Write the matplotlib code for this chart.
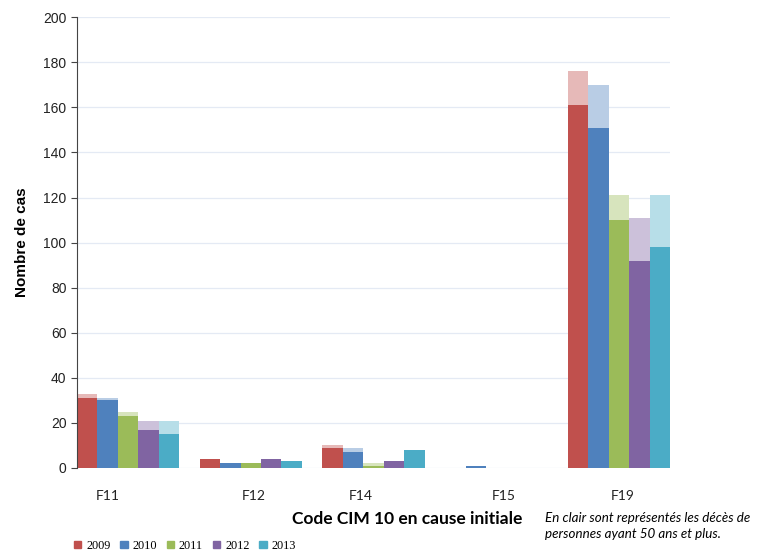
import numpy as np
import matplotlib.pyplot as plt
from matplotlib.patches import Patch

plt.rcParams["font.family"] = ["Liberation Sans", "DejaVu Sans"]

# DATA
codes = ["F11", "F12", "F14", "F15", "F19"]
annees = ["2009", "2010", "2011", "2012", "2013"]

# moins de 50 ans (fonce)
moins50 = {
    "2009": [31, 4, 9, 0, 161],
    "2010": [30, 2, 7, 1, 151],
    "2011": [23, 2, 1, 0, 110],
    "2012": [17, 4, 3, 0, 92],
    "2013": [15, 3, 8, 0, 98],
}
# total (fonce + clair = 50 ans et plus)
total = {
    "2009": [33, 4, 10, 0, 176],
    "2010": [31, 2, 9, 1, 170],
    "2011": [25, 2, 2, 0, 121],
    "2012": [21, 4, 3, 0, 111],
    "2013": [21, 3, 8, 0, 121],
}

COULEURS = ["#C0504D", "#4F81BD", "#9BBB59", "#8064A2", "#4BACC6"]
CLAIRES = ["#E6B9B8", "#B9CDE5", "#D7E4BD", "#CCC1DA", "#B7DEE8"]

# decalage des etiquettes (comme dans le graphique d'origine)
decal_label = [-0.17, 0.02, -0.1, 0.06, 0.03]

fig = plt.figure(figsize=(7.57, 5.55), dpi=100)
ax = fig.add_axes([0.1017, 0.1568, 0.7834, 0.8122])

x = np.arange(len(codes))
larg = 0.8333 / len(annees)

for i, an in enumerate(annees):
    pos = x - 0.4167 + larg * (i + 0.5)
    bas = np.array(moins50[an])
    haut = np.array(total[an]) - bas
    ax.bar(pos, bas, width=larg, color=COULEURS[i], linewidth=0)
    ax.bar(pos, haut, width=larg, bottom=bas, color=CLAIRES[i], linewidth=0)

ax.set_xlim(-0.4167, len(codes) - 1 + 0.4167)
ax.set_ylim(0, 200)
ax.set_yticks(range(0, 201, 20))
ax.grid(axis="y", color="#E4EAF4", linewidth=0.9)
ax.set_axisbelow(True)

for s in ["top", "right", "bottom"]:
    ax.spines[s].set_visible(False)
ax.spines["left"].set_color("#444444")
ax.tick_params(axis="y", direction="out", length=4, color="#444444",
               labelsize=10, labelcolor="#222222")
ax.tick_params(axis="x", length=0)
ax.set_xticks(x + np.array(decal_label))
ax.set_xticklabels(codes, fontsize=10, family="Lato", color="#222222")
ax.tick_params(axis="x", pad=16)

ax.set_ylabel("Nombre de cas", fontsize=11, fontweight="bold", labelpad=10)
fig.text(0.538, 0.056, "Code CIM 10 en cause initiale", ha="center",
         fontsize=12.5, fontweight="bold", family="Lato")

fig.text(0.72, 0.052, "En clair sont représentés les décès de\npersonnes ayant 50 ans et plus.",
         fontsize=9.6, style="italic", family="Lato", linespacing=1.45, va="center")

poignees = [Patch(color=c, label=a) for c, a in zip(COULEURS, annees)]
fig.legend(handles=poignees, loc="lower left", bbox_to_anchor=(0.083, -0.014),
           ncol=5, frameon=False, handlelength=0.6, handleheight=0.6,
           handletextpad=0.4, columnspacing=0.8,
           prop={"family": "Liberation Serif", "size": 8.8})

plt.savefig("out.png", dpi=100)
plt.close()
